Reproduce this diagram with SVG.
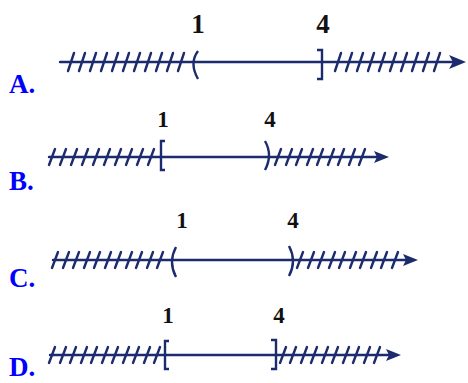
<svg xmlns="http://www.w3.org/2000/svg" width="468" height="383" viewBox="0 0 468 383">
<style>
.ln{stroke:#1c2a6e;stroke-width:2.4;fill:none;stroke-linecap:round}
.ht{stroke:#1c2a6e;stroke-width:2.4;fill:none;stroke-linecap:round}
.br{stroke:#1c2a6e;stroke-width:2.4;fill:none}
.num{font-family:"Liberation Serif",serif;font-weight:bold;fill:#111;text-anchor:middle}
.opt{font-family:"Liberation Serif",serif;font-weight:bold;fill:#0000ff;font-size:27px}
.ah{fill:#1c2a6e}
</style>
<rect width="468" height="383" fill="#fff"/>
<g id="optA">
<text class="opt" x="9" y="93">A.</text>
<text class="num" x="198" y="33" font-size="27">1</text>
<text class="num" x="323" y="33" font-size="27">4</text>
<g class="connectors">
<line class="ln" x1="60" y1="62" x2="458" y2="62"/>
<path class="ah" d="M466,62 L449,55 L453,62 L449,69 Z"/>
<path class="ht" d="M68,71 L74,53 M79,71 L85,53 M90,71 L96,53 M101,71 L107,53 M112,71 L118,53 M123,71 L129,53 M134,71 L140,53 M145,71 L151,53 M156,71 L162,53 M167,71 L173,53 M178,71 L184,53 M335,71 L341,53 M346,71 L352,53 M357,71 L363,53 M368,71 L374,53 M379,71 L385,53 M390,71 L396,53 M401,71 L407,53 M412,71 L418,53 M423,71 L429,53 M434,71 L440,53"/>
<path class="br" d="M198,51 Q189,63 198,79"/>
<path class="br" d="M317,50 L322,50 L322,79 L317,79"/>
</g>
</g>
<g id="optB">
<text class="opt" x="9" y="190">B.</text>
<text class="num" x="163" y="127" font-size="23">1</text>
<text class="num" x="270" y="127" font-size="23">4</text>
<g class="connectors">
<line class="ln" x1="49" y1="157" x2="382" y2="157"/>
<path class="ah" d="M389,157 L374,151 L377,157 L374,163 Z"/>
<path class="ht" d="M49,165 L55,149 M60,165 L66,149 M71,165 L77,149 M82,165 L88,149 M93,165 L99,149 M104,165 L110,149 M115,165 L121,149 M126,165 L132,149 M137,165 L143,149 M148,165 L154,149 M275,165 L281,149 M286,165 L292,149 M296,165 L302,149 M307,165 L313,149 M317,165 L323,149 M328,165 L334,149 M338,165 L344,149 M349,165 L355,149 M359,165 L365,149"/>
<path class="br" d="M165,141 L161,141 L161,170 L165,170"/>
<path class="br" d="M265,141 Q273,155 265,170"/>
</g>
</g>
<g id="optC">
<text class="opt" x="9" y="287">C.</text>
<text class="num" x="182" y="228" font-size="23">1</text>
<text class="num" x="293" y="228" font-size="23">4</text>
<g class="connectors">
<line class="ln" x1="53" y1="260" x2="411" y2="260"/>
<path class="ah" d="M418,260 L403,254 L406,260 L403,266 Z"/>
<path class="ht" d="M52,268 L58,252 M63,268 L69,252 M73,268 L79,252 M84,268 L90,252 M94,268 L100,252 M105,268 L111,252 M115,268 L121,252 M126,268 L132,252 M136,268 L142,252 M147,268 L153,252 M157,268 L163,252 M297,268 L303,252 M308,268 L314,252 M318,268 L324,252 M329,268 L335,252 M339,268 L345,252 M350,268 L356,252 M360,268 L366,252 M371,268 L377,252 M381,268 L387,252 M392,268 L398,252"/>
<path class="br" d="M176,247 Q168,262 176,277"/>
<path class="br" d="M289,246 Q297,261 289,276"/>
</g>
</g>
<g id="optD">
<text class="opt" x="9" y="376">D.</text>
<text class="num" x="168" y="323" font-size="23">1</text>
<text class="num" x="279" y="323" font-size="23">4</text>
<g class="connectors">
<line class="ln" x1="50" y1="355" x2="393" y2="355"/>
<path class="ah" d="M401,355 L386,349 L389,355 L386,361 Z"/>
<path class="ht" d="M49,363 L55,347 M60,363 L66,347 M70,363 L76,347 M81,363 L87,347 M91,363 L97,347 M102,363 L108,347 M112,363 L118,347 M123,363 L129,347 M133,363 L139,347 M144,363 L150,347 M154,363 L160,347 M280,363 L286,347 M290,363 L296,347 M301,363 L307,347 M311,363 L317,347 M322,363 L328,347 M332,363 L338,347 M343,363 L349,347 M353,363 L359,347 M364,363 L370,347 M374,363 L380,347"/>
<path class="br" d="M169,341 L165,341 L165,369 L169,369"/>
<path class="br" d="M271,340 L276,340 L276,369 L271,369"/>
</g>
</g>
</svg>
